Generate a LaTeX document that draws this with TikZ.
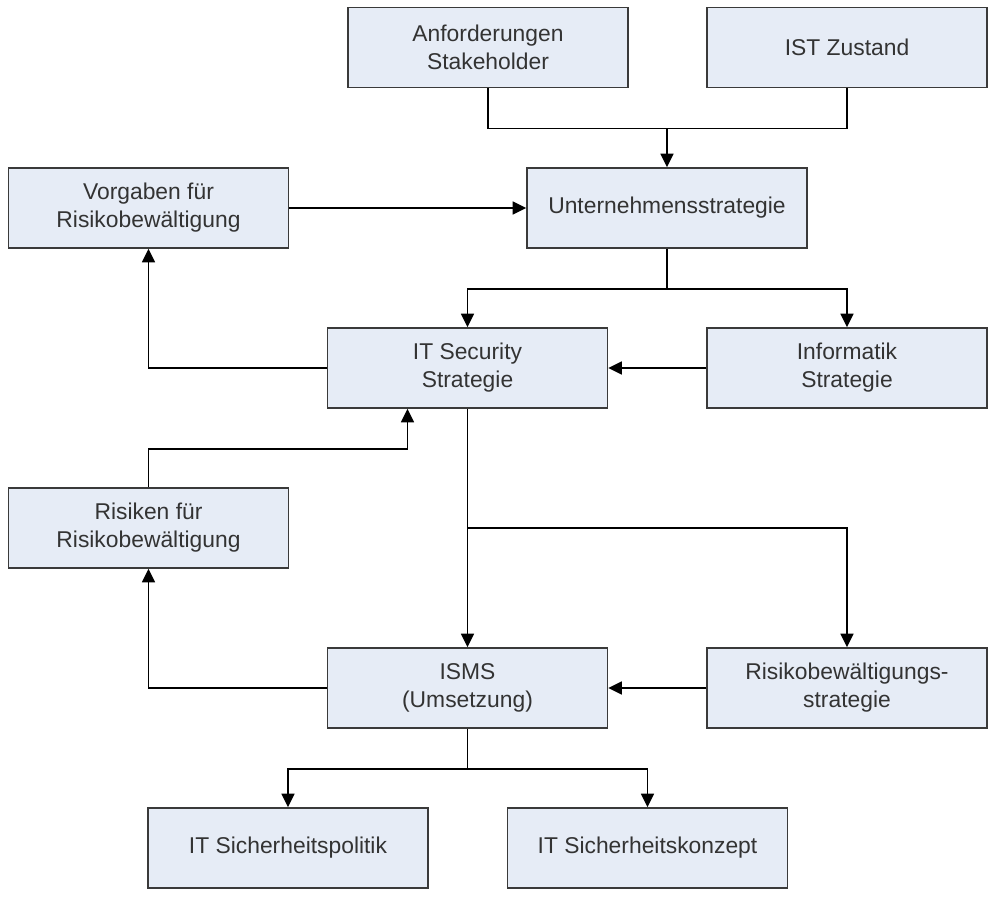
\documentclass[tikz,border=0pt]{standalone}
\usepackage{fontspec}
\setmainfont{Liberation Sans}
\usetikzlibrary{arrows.meta,positioning,calc}
\definecolor{boxfill}{HTML}{E6ECF6}
\definecolor{boxline}{HTML}{3A3A3A}
\definecolor{boxtext}{HTML}{333333}

\begin{document}
\begin{tikzpicture}[>={Triangle[length=2.7mm,width=2.6mm]}, line width=0.9pt,
  font=\fontsize{13}{16}\selectfont,
  box/.style={draw=boxline,fill=boxfill,text=boxtext,align=center,minimum width=5.6cm,minimum height=1.6cm,inner sep=2pt}]
  \useasboundingbox (0,0) rectangle (20,-17.98);
  \node[box] (anf) at (9.76,-0.95) {Anforderungen\\Stakeholder};
  \node[box] (ist) at (16.94,-0.95) {IST Zustand};
  \node[box] (vorg) at (2.97,-4.16) {Vorgaben für\\Risikobewältigung};
  \node[box] (unt) at (13.34,-4.16) {Unternehmensstrategie};
  \node[box] (itsec) at (9.35,-7.36) {IT Security\\Strategie};
  \node[box] (inf) at (16.94,-7.36) {Informatik\\Strategie};
  \node[box] (ris) at (2.97,-10.56) {Risiken für\\Risikobewältigung};
  \node[box] (isms) at (9.35,-13.76) {ISMS\\(Umsetzung)};
  \node[box] (rbs) at (16.94,-13.76) {Risikobewältigungs-\\strategie};
  \node[box] (pol) at (5.76,-16.96) {IT Sicherheitspolitik};
  \node[box] (konz) at (12.95,-16.96) {IT Sicherheitskonzept};
  % oben
  \draw (anf.south) -- ++(0,-0.8) coordinate (j1) -| (ist.south);
  \draw[->] (j1 -| unt.north) -- (unt.north);
  \draw[->] (vorg) -- (unt);
  \draw (unt.south) -- ++(0,-0.8) coordinate (j2);
  \draw[->] (j2) -| (itsec.north);
  \draw[->] (j2) -| (inf.north);
  % mitte
  \draw[->] (itsec.west) -| (vorg.south);
  \draw[->] (inf) -- (itsec);
  \coordinate (j3) at ($(itsec.south)+(-1.2,-0.8)$);
  \draw[->] (ris.north) |- (j3) -- (j3 |- itsec.south);
  \draw[->] (itsec.south) -- (isms.north);
  \draw[->] (itsec.south |- ris.east) -| (rbs.north);
  % unten
  \draw[->] (isms.west) -| (ris.south);
  \draw[->] (rbs) -- (isms);
  \draw (isms.south) -- ++(0,-0.8) coordinate (j4);
  \draw[->] (j4) -| (pol.north);
  \draw[->] (j4) -| (konz.north);
\end{tikzpicture}
\end{document}
